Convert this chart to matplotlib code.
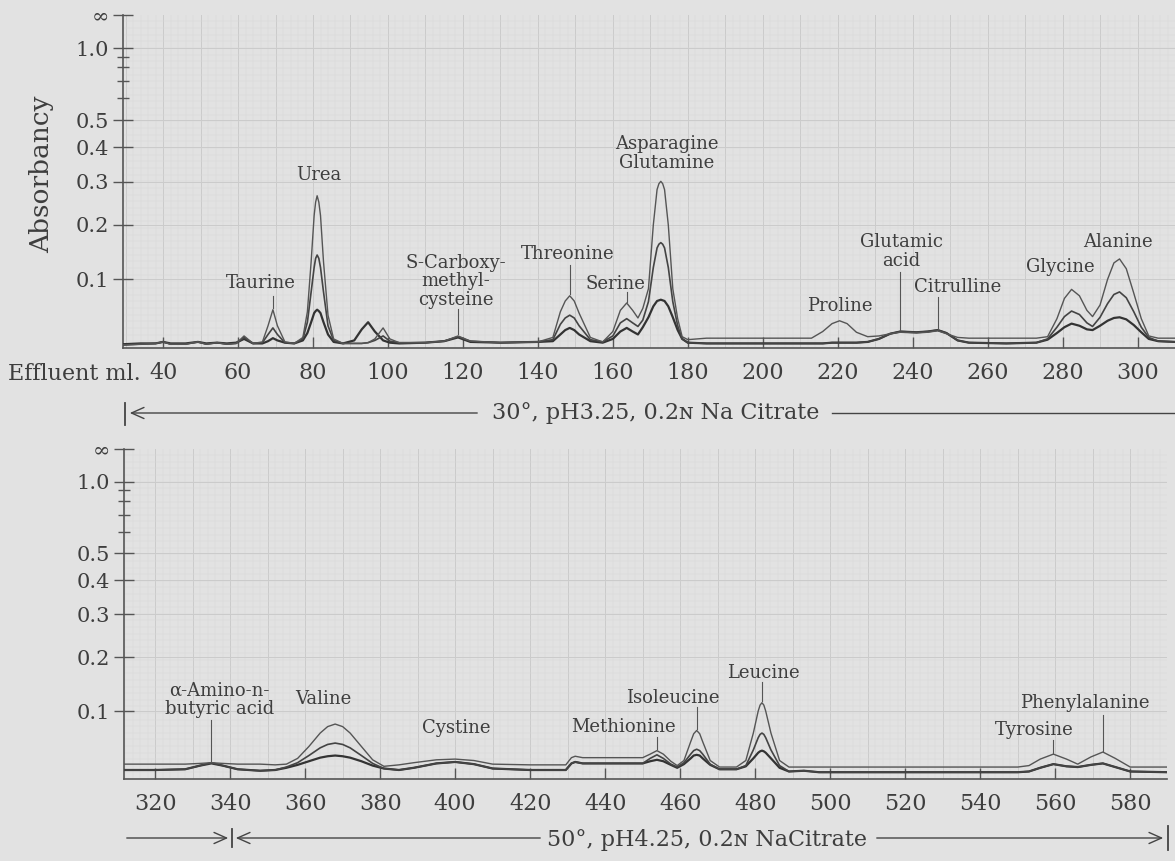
import numpy as np
import matplotlib
matplotlib.use("Agg")
import matplotlib.pyplot as plt
from matplotlib.lines import Line2D

W, H = 1175, 861

# ---- first run: 30 deg, pH 3.25 (effluent ml, absorbancy of the three traces)
top_ml = [29.5, 34, 38, 40, 42, 46, 49.3, 51.5, 54.4, 57, 59.5, 61.6, 64, 66.5, 68, 69.3, 70.5, 72.5,
          75, 77.3, 78.5, 79.5, 80.3, 80.7, 81.1, 81.55, 82, 82.8, 84, 85.5, 88, 91, 93, 94.7, 96.5, 98.7, 100.5,
          103, 110, 115, 118.7, 122, 130, 140, 144, 146, 147.3, 148.5, 149.7, 151, 154, 157.3, 160, 162, 163.7,
          165.3, 166.7, 168, 169.5, 170.8, 171.8, 172.3, 172.8, 173.3, 173.8, 174.8, 176, 177.3, 178.5, 180, 185,
          213, 216, 218.5, 220.5, 222.5, 225, 228, 231, 234, 236.7, 241, 244, 246.7, 249, 252, 255,
          265, 273, 276, 278.5, 280.5, 282.4, 284.5, 286.5, 288, 290, 292, 293.7, 295.2, 297, 299,
          301, 303, 305.5, 310]
top_hi = [.004, .005, .006, .008, .005, .005, .008, .005, .007, .005, .006, .016, .006, .008, .030, .053, .030, .008,
          .006, .014, .050, .130, .220, .250, .265, .250, .220, .130, .045, .012, .006, .006, .006, .007, .012, .027, .012,
          .007, .007, .009, .016, .009, .007, .008, .014, .050, .066, .074, .066, .048, .014, .008, .022, .052, .063,
          .052, .041, .055, .085, .200, .280, .295, .301, .295, .280, .200, .085, .040, .015, .011, .013,
          .013, .022, .033, .037, .033, .021, .015, .016, .019, .021, .020, .021, .023, .019, .014, .013,
          .013, .013, .015, .040, .070, .084, .074, .052, .043, .060, .100, .128, .135, .118, .078,
          .040, .016, .013, .013]
top_mid = [.004, .005, .006, .008, .005, .005, .008, .005, .007, .005, .006, .014, .006, .007, .018, .027, .018, .007,
           .006, .012, .035, .080, .120, .136, .142, .136, .120, .080, .030, .010, .006, .006, .006, .007, .010, .016, .009,
           .007, .007, .009, .015, .009, .007, .008, .011, .032, .041, .045, .041, .030, .011, .008, .016, .034, .040,
           .034, .029, .038, .065, .120, .155, .162, .165, .162, .155, .120, .065, .030, .012, .007, .006,
           .006, .006, .007, .007, .007, .007, .008, .012, .019, .022, .021, .022, .024, .020, .010, .007,
           .006, .007, .012, .028, .043, .051, .046, .034, .029, .042, .062, .076, .080, .071, .050,
           .028, .014, .009, .008]
top_lo = [.005, .006, .006, .008, .006, .006, .008, .006, .007, .006, .007, .012, .006, .006, .009, .013, .010, .007,
          .006, .010, .020, .035, .048, .051, .053, .051, .048, .035, .018, .008, .006, .010, .025, .035, .022, .010, .007,
          .006, .007, .009, .014, .008, .007, .008, .009, .018, .024, .027, .024, .018, .009, .007, .012, .022, .027,
          .022, .018, .028, .042, .058, .066, .067, .068, .067, .066, .058, .042, .024, .012, .007, .006,
          .006, .006, .007, .007, .007, .007, .008, .012, .019, .022, .021, .022, .024, .020, .010, .007,
          .006, .007, .011, .020, .028, .033, .030, .025, .024, .030, .037, .041, .042, .039, .031,
          .021, .012, .009, .008]

# ---- second run: 50 deg, pH 4.25
bot_ml = [311.7, 320, 328, 332, 335, 338, 342, 348, 352, 355, 358, 361, 364, 366, 368, 370, 372, 375,
          378, 381, 385, 389, 395, 400, 405, 410, 420, 429.5, 431, 432, 434, 445, 450, 452, 453.8,
          455.5, 457.5, 459.2, 461, 462.8, 463.6, 464.4, 465.2, 466, 468, 470.5, 475, 477.5, 479.5, 480.8,
          481.3, 481.8, 482.3, 482.8, 484.2, 486.5, 489, 493, 497, 520, 550, 553, 556, 559.5, 563, 566,
          569.5, 572.7, 576, 580, 590]
bot_hi = [.020, .020, .020, .021, .022, .021, .020, .020, .019, .020, .028, .045, .065, .075, .079, .075, .065, .045,
          .026, .017, .019, .022, .026, .027, .025, .020, .019, .019, .029, .031, .029, .029, .029, .034, .039,
          .034, .024, .018, .025, .052, .064, .069, .064, .052, .025, .016, .016, .025, .065, .100,
          .110, .114, .110, .100, .065, .025, .016, .016, .016, .016, .016, .018, .027, .034, .027, .020,
          .030, .037, .028, .016, .016]
bot_mid = [.012, .012, .013, .018, .022, .018, .013, .011, .012, .016, .022, .032, .043, .048, .050, .048, .043, .032,
           .021, .014, .012, .015, .021, .023, .020, .014, .012, .012, .021, .023, .021, .021, .021, .028, .033,
           .028, .020, .016, .022, .034, .039, .041, .039, .034, .020, .013, .013, .018, .040, .058,
           .063, .065, .063, .058, .040, .018, .010, .011, .009, .009, .009, .010, .015, .020, .017, .016,
           .019, .021, .016, .010, .009]
bot_lo = [.012, .012, .013, .018, .021, .018, .013, .011, .012, .015, .019, .024, .029, .031, .032, .031, .029, .024,
          .018, .014, .012, .015, .021, .023, .020, .014, .012, .012, .021, .023, .021, .021, .021, .024, .026,
          .024, .019, .015, .020, .028, .032, .033, .032, .028, .019, .013, .013, .017, .028, .036,
          .038, .039, .038, .036, .028, .015, .010, .011, .009, .009, .009, .010, .015, .020, .017, .016,
          .019, .021, .016, .010, .009]

# peak labels: text, label anchor (ml, absorbancy), leader line (ml, from, to)
top_labels = ["Taurine", "Urea", "S-Carboxy-\nmethyl-\ncysteine", "Threonine", "Serine",
              "Asparagine\nGlutamine", "Proline", "Glutamic\nacid", "Citrulline", "Glycine", "Alanine"]
top_label_pos = [(66.1, .094), (81.6, .319), (118.1, .097), (148, .143), (160.8, .092),
                 (174.4, .381), (220.5, .058), (237, .149), (252, .088), (279.5, .121), (294.7, .166)]
top_leaders = [(69.3, .056, .074), (118.7, .018, .054), (148.5, .077, .125), (163.7, .065, .080),
               (236.7, .024, .112), (246.7, .026, .072)]

bot_labels = ["\u03b1-Amino-n-\nbutyric acid", "Valine", "Cystine", "Methionine", "Isoleucine",
              "Leucine", "Tyrosine", "Phenylalanine"]
bot_label_pos = [(337.1, .119), (364.8, .120), (400.3, .073), (444.8, .075), (457.9, .122),
                 (482.1, .168), (554.4, .070), (568, .114)]
bot_leaders = [(335, .023, .086), (453.8, .041, .059), (464.4, .071, .107), (481.8, .117, .151),
               (559.5, .036, .055), (572.7, .039, .094)]

abs_ticks = [0.1, 0.2, 0.3, 0.4, 0.5, 1.0, 3.0]
abs_labels = ["0.1", "0.2", "0.3", "0.4", "0.5", "1.0", "\u221e"]

BG = "#e2e2e2"
INK = "#3e3e3e"
plt.rcParams["font.family"] = ["DejaVu Serif", "DejaVu Sans"]


def fwd(a):
    return 1 - 10.0 ** (-np.asarray(a, dtype=float))


def inv(t):
    return -np.log10(np.clip(1 - np.asarray(t, dtype=float), 1e-12, None))


def setup(ax, x0, x1, xt):
    ax.set_facecolor(BG)
    ax.set_yscale("function", functions=(fwd, inv))
    ax.set_xlim(x0, x1)
    ax.set_ylim(0, 3.0)
    # graph paper
    for x in np.arange(np.ceil(x0 / 2) * 2, x1, 2):
        major = abs(x % 10) < 1e-6
        ax.axvline(x, color="#cbcbcb" if major else "#d9d9d9", lw=0.7 if major else 0.35, zorder=0)
    for t in np.arange(0.02, 1.0, 0.02):
        ax.axhline(inv(t), color="#d9d9d9", lw=0.35, zorder=0)
    for a in abs_ticks[:-1]:
        ax.axhline(a, color="#cbcbcb", lw=0.7, zorder=0)
    ax.set_yticks(abs_ticks)
    ax.set_yticklabels(abs_labels)
    ax.set_yticks([0.6, 0.7, 0.8, 0.9], minor=True)
    ax.set_xticks(xt)
    ax.tick_params(axis="x", direction="in", length=8, width=1, pad=10, labelsize=16,
                   colors="#555", labelcolor=INK)
    ax.tick_params(axis="y", which="major", direction="inout", length=14, width=1, pad=3,
                   labelsize=15, colors="#555", labelcolor=INK)
    ax.tick_params(axis="y", which="minor", direction="inout", length=9, width=1, colors="#555")
    for s in ["top", "right"]:
        ax.spines[s].set_visible(False)
    for s in ["left", "bottom"]:
        ax.spines[s].set_color("#555")
        ax.spines[s].set_linewidth(1.2)


def traces(ax, ml, hi, mid, lo):
    ax.plot(ml, lo, color="#333333", lw=1.6, zorder=3)
    ax.plot(ml, mid, color="#444444", lw=1.2, zorder=3)
    ax.plot(ml, hi, color="#555555", lw=1.0, zorder=3)


def labels(ax, names, pos, leaders):
    for name, (x, y) in zip(names, pos):
        ax.text(x, y, name, ha="center", va="center", fontsize=13, color=INK,
                linespacing=1.05, zorder=4)
    for x, a0, a1 in leaders:
        ax.plot([x, x], [a0, a1], color="#555", lw=0.8, zorder=3)


fig = plt.figure(figsize=(W / 100, H / 100), dpi=100, facecolor=BG)

ax1 = fig.add_axes([123 / W, 1 - 348 / H, (W - 123) / W, (348 - 15) / H])
setup(ax1, 29.3, 310, list(range(40, 301, 20)))
traces(ax1, top_ml, top_hi, top_mid, top_lo)
labels(ax1, top_labels, top_label_pos, top_leaders)

ax2 = fig.add_axes([124 / W, 1 - 779 / H, (1167 - 124) / W, (779 - 449) / H])
setup(ax2, 311.7, 589.8, list(range(320, 581, 20)))
traces(ax2, bot_ml, bot_hi, bot_mid, bot_lo)
labels(ax2, bot_labels, bot_label_pos, bot_leaders)


def px(x, y):
    return (x / W, 1 - y / H)


fig.text(*px(42, 174), "Absorbancy", rotation=90, ha="center", va="center", fontsize=19, color=INK)
fig.text(*px(141, 374), "Effluent ml.", ha="right", va="center", fontsize=16, color=INK)


def seg(x0, y0, x1, y1, lw=1.0):
    fig.add_artist(Line2D([x0 / W, x1 / W], [1 - y0 / H, 1 - y1 / H], color="#444", lw=lw,
                          transform=fig.transFigure))


def arrow(x_from, x_to, y):
    fig.add_artist(matplotlib.patches.FancyArrowPatch(px(x_from, y), px(x_to, y), transform=fig.transFigure,
                                                      arrowstyle="->,head_length=9,head_width=4",
                                                      color="#444", lw=1.0, mutation_scale=1))


# buffer bars
seg(125, 403, 125, 425, lw=1.3)
arrow(480, 127, 413)
seg(832, 413, 1175, 413)
fig.text(*px(656, 413), "30\u00b0, pH3.25, 0.2\u0274 Na Citrate", ha="center", va="center",
         fontsize=16, color=INK)

arrow(124, 231, 838)
arrow(543, 233, 838)
seg(232, 829, 232, 847, lw=1.3)
arrow(874, 1166, 838)
seg(1168, 826, 1168, 850, lw=1.3)
fig.text(*px(707, 840), "50\u00b0, pH4.25, 0.2\u0274 NaCitrate", ha="center", va="center",
         fontsize=16, color=INK)

fig.savefig("out.png", dpi=100, facecolor=BG)
